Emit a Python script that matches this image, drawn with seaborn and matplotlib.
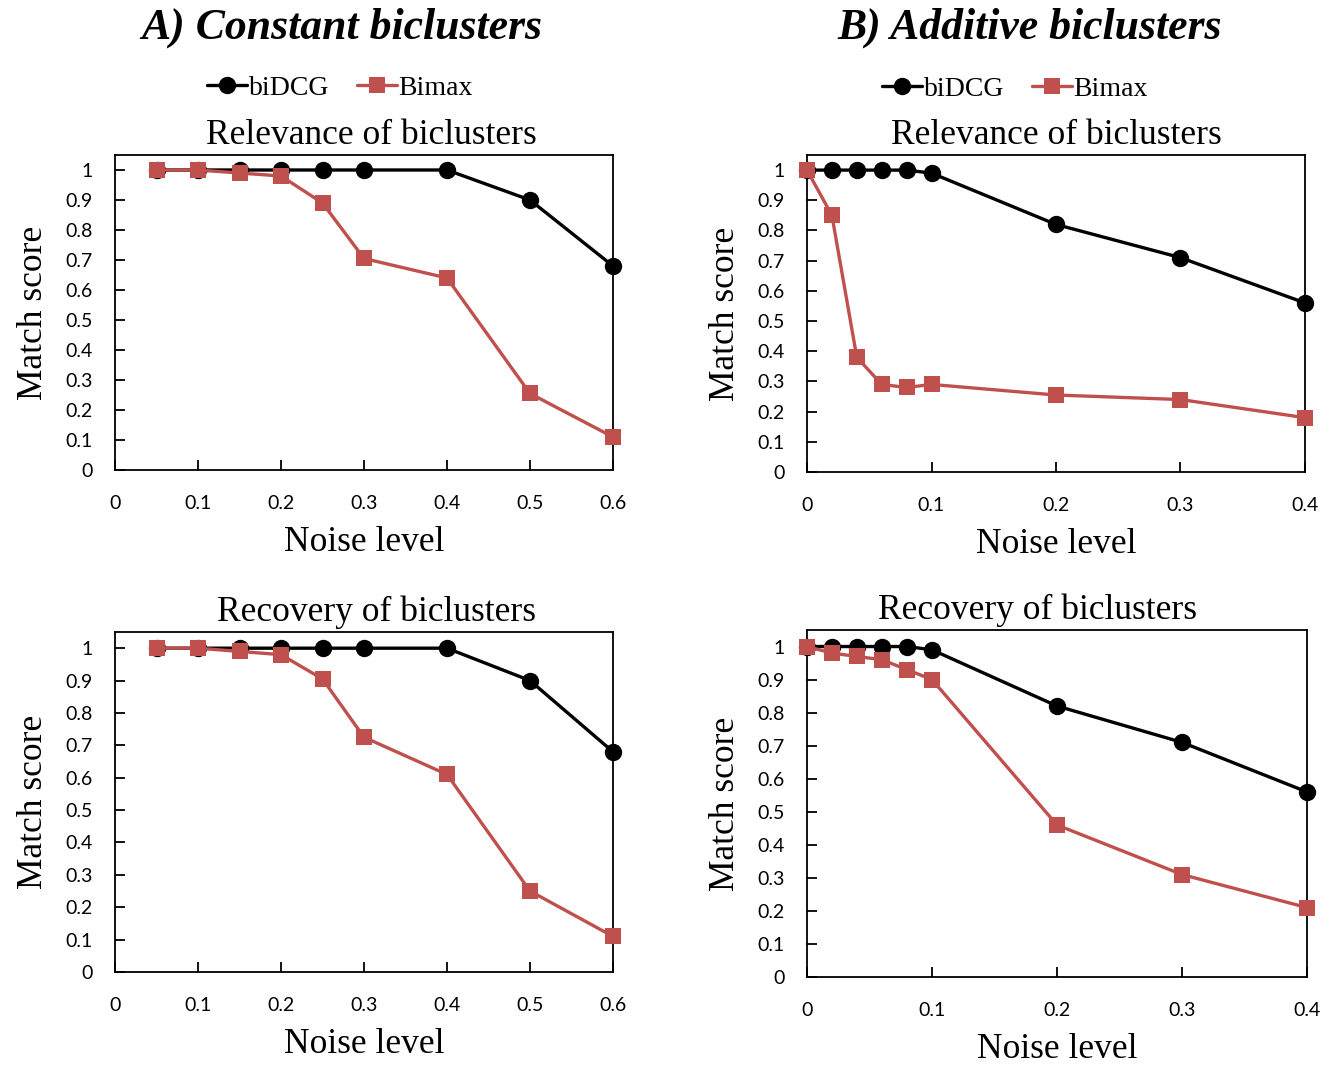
import pandas as pd
import seaborn as sns
import matplotlib
matplotlib.use("Agg")
import matplotlib.pyplot as plt
from matplotlib.lines import Line2D

# noise levels
noise_const = [0.05, 0.1, 0.15, 0.2, 0.25, 0.3, 0.4, 0.5, 0.6]
noise_add = [0, 0.02, 0.04, 0.06, 0.08, 0.1, 0.2, 0.3, 0.4]

# A) constant biclusters
const_rel_bidcg = [1, 1, 1, 1, 1, 1, 1, 0.90, 0.68]
const_rel_bimax = [1, 1, 0.99, 0.98, 0.89, 0.705, 0.64, 0.255, 0.11]
const_rec_bidcg = [1, 1, 1, 1, 1, 1, 1, 0.90, 0.68]
const_rec_bimax = [1, 1, 0.99, 0.98, 0.905, 0.725, 0.61, 0.25, 0.11]

# B) additive biclusters
add_rel_bidcg = [1, 1, 1, 1, 1, 0.99, 0.82, 0.71, 0.56]
add_rel_bimax = [1, 0.85, 0.38, 0.29, 0.28, 0.29, 0.255, 0.24, 0.18]
add_rec_bidcg = [1, 1, 1, 1, 1, 0.99, 0.82, 0.71, 0.56]
add_rec_bimax = [1, 0.98, 0.97, 0.96, 0.93, 0.90, 0.46, 0.31, 0.21]

methods = ["biDCG", "Bimax"]
colors = {"biDCG": "#000000", "Bimax": "#C0504D"}
markers = {"biDCG": "o", "Bimax": "s"}
msize = {"biDCG": 12.5, "Bimax": 11}

sns.set_theme(style="white", rc={"text.color": "black", "axes.labelcolor": "black",
                                 "xtick.color": "black", "ytick.color": "black"})
plt.rcParams["font.family"] = ["Liberation Serif", "DejaVu Serif"]

W, H = 1334, 1065
fig = plt.figure(figsize=(W / 100, H / 100), dpi=100)


def box(l, r, t, b):
    return [l / W, 1 - b / H, (r - l) / W, (b - t) / H]


panels = [
    (box(115, 613, 155, 470), noise_const, const_rel_bidcg, const_rel_bimax,
     "Relevance of biclusters", 0.514, 0.6),
    (box(807, 1305, 155, 472), noise_add, add_rel_bidcg, add_rel_bimax,
     "Relevance of biclusters", 0.5, 0.4),
    (box(115, 613, 632, 972), noise_const, const_rec_bidcg, const_rec_bimax,
     "Recovery of biclusters", 0.526, 0.6),
    (box(807, 1307, 630, 977), noise_add, add_rec_bidcg, add_rec_bimax,
     "Recovery of biclusters", 0.462, 0.4),
]

for rect, xs, y1, y2, title, tx, xmax in panels:
    ax = fig.add_axes(rect)
    df = pd.DataFrame({"noise": xs * 2, "score": y1 + y2,
                       "method": ["biDCG"] * len(xs) + ["Bimax"] * len(xs)})
    for m in methods:
        sub = df[df.method == m]
        sns.lineplot(data=sub, x="noise", y="score", ax=ax, color=colors[m],
                     marker=markers[m], markersize=msize[m], linewidth=2.4,
                     markeredgewidth=0, clip_on=False, zorder=3, legend=False)
    ax.set_xlim(0, xmax)
    ax.set_ylim(0, 1.05)
    ax.set_xticks([round(i * 0.1, 1) for i in range(int(round(xmax * 10)) + 1)])
    ax.set_yticks([round(i * 0.1, 1) for i in range(11)])
    ax.set_xticklabels(["0" if v == 0 else f"{v:g}" for v in ax.get_xticks()])
    ax.set_yticklabels(["0" if v == 0 else ("1" if v == 1 else f"{v:g}")
                        for v in ax.get_yticks()])
    ax.tick_params(direction="in", length=7, width=1.3, colors="black",
                   labelsize=14, left=True, bottom=True)
    ax.tick_params(axis="y", pad=16)
    ax.tick_params(axis="x", pad=18)
    for lab in ax.get_xticklabels() + ax.get_yticklabels():
        lab.set_family(["Lato", "DejaVu Sans"])
    for s in ax.spines.values():
        s.set_color("black")
        s.set_linewidth(1.3)
    ax.set_title(title, fontsize=25.5, x=tx, pad=8)
    ax.set_xlabel("Noise level", fontsize=25.5, labelpad=10)
    ax.set_ylabel("Match score", fontsize=25.5, labelpad=11)

fig.text(342 / W, 1 - 28 / H, "A) Constant biclusters", ha="center", va="center",
         fontsize=31.5, fontweight="bold", fontstyle="italic")
fig.text(1030 / W, 1 - 28 / H, "B) Additive biclusters", ha="center", va="center",
         fontsize=31.5, fontweight="bold", fontstyle="italic")

handles = [Line2D([], [], color=colors[m], marker=markers[m], markersize=msize[m],
                  markeredgewidth=0, linewidth=2.4) for m in methods]
for cx, cy in [(340, 88), (1015, 89)]:
    fig.legend(handles, methods, loc="center", bbox_to_anchor=(cx / W, 1 - cy / H),
               ncol=2, frameon=False, fontsize=20, handlelength=1.45,
               handletextpad=0.05, columnspacing=1.0)

fig.savefig("out.png", dpi=100)
